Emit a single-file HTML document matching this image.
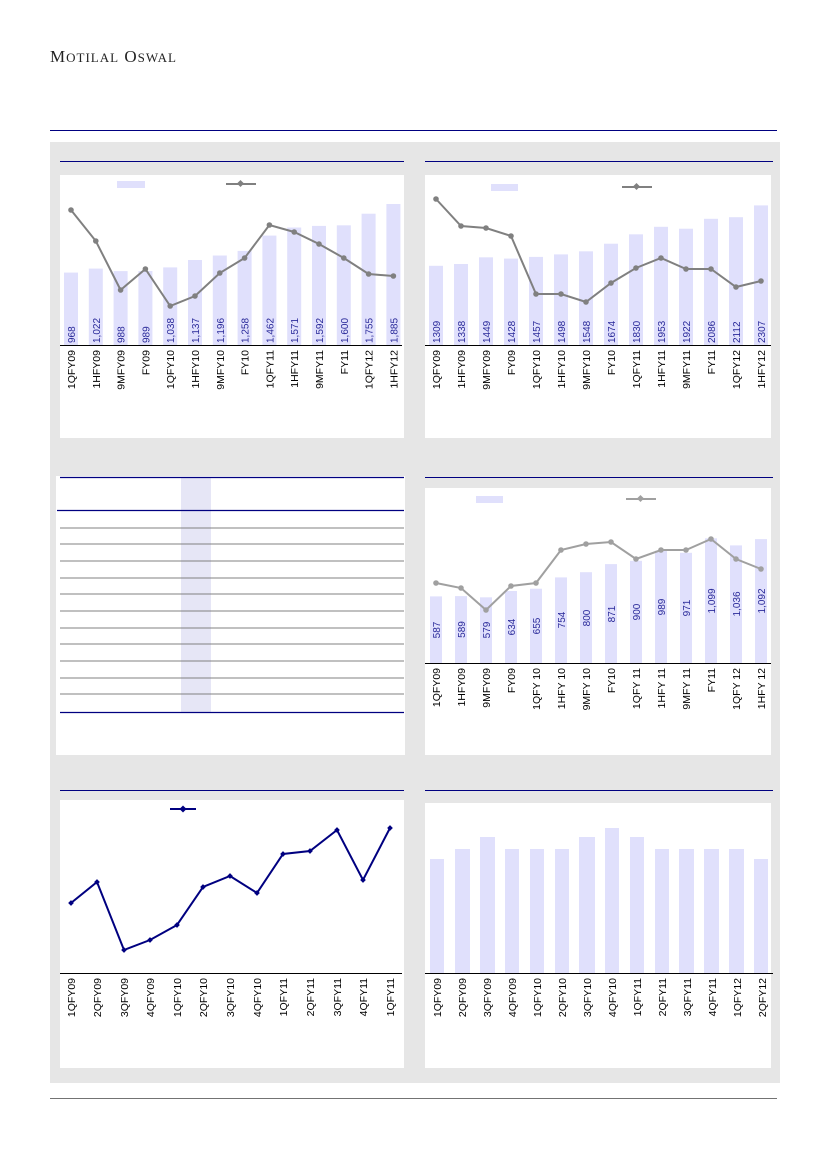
<!DOCTYPE html>
<html><head><meta charset="utf-8"><style>
html,body{margin:0;padding:0;background:#fff;}
svg{display:block;font-family:"Liberation Sans",Arial,sans-serif;}
.t{font-size:10.5px;fill:#000;}
.v{font-size:10px;fill:#2a2a9a;}
</style></head><body>
<svg width="826" height="1169" viewBox="0 0 826 1169" xmlns="http://www.w3.org/2000/svg">
<text x="50" y="62" font-family="Liberation Serif,serif" font-size="17" fill="#222" letter-spacing="1">M<tspan font-size="13">OTILAL</tspan> O<tspan font-size="13">SWAL</tspan></text>
<line x1="50" y1="130.5" x2="777" y2="130.5" stroke="#000080" stroke-width="1"/>
<rect x="50" y="142" width="730" height="941" fill="#e6e6e6"/>
<line x1="50" y1="1098.5" x2="777" y2="1098.5" stroke="#444" stroke-width="0.8"/>

<!-- Panel A -->
<line x1="60" y1="161.5" x2="404" y2="161.5" stroke="#000080"/>
<rect x="60" y="175" width="344" height="263" fill="#fff"/>
<rect x="117" y="181" width="28" height="7" fill="#e0e0fc"/>
<line x1="226" y1="184" x2="256" y2="184" stroke="#808080" stroke-width="2"/><rect x="238" y="181" width="5" height="5" transform="rotate(45 240.5 183.5)" fill="#808080"/>
<g fill="#e0e0fc">
<rect x="64" y="272.6" width="14" height="72.4"/><rect x="88.8" y="268.6" width="14" height="76.4"/><rect x="113.6" y="271.1" width="14" height="73.9"/><rect x="138.4" y="271" width="14" height="74"/><rect x="163.2" y="267.4" width="14" height="77.6"/><rect x="188" y="260" width="14" height="85"/><rect x="212.8" y="255.5" width="14" height="89.5"/><rect x="237.6" y="250.9" width="14" height="94.1"/><rect x="262.4" y="235.6" width="14" height="109.4"/><rect x="287.2" y="227.5" width="14" height="117.5"/><rect x="312" y="225.9" width="14" height="119.1"/><rect x="336.8" y="225.3" width="14" height="119.7"/><rect x="361.6" y="213.7" width="14" height="131.3"/><rect x="386.4" y="204" width="14" height="141"/>
</g>
<line x1="60" y1="345.5" x2="402" y2="345.5" stroke="#000"/>
<polyline fill="none" stroke="#808080" stroke-width="2" points="71,210 95.8,241 120.6,290 145.4,269 170.2,306 195,296 219.8,273 244.6,258 269.4,225 294.2,232 319,244 343.8,258 368.6,274 393.4,276"/>
<g fill="#808080">
<circle cx="71" cy="210" r="2.8"/><circle cx="95.8" cy="241" r="2.8"/><circle cx="120.6" cy="290" r="2.8"/><circle cx="145.4" cy="269" r="2.8"/><circle cx="170.2" cy="306" r="2.8"/><circle cx="195" cy="296" r="2.8"/><circle cx="219.8" cy="273" r="2.8"/><circle cx="244.6" cy="258" r="2.8"/><circle cx="269.4" cy="225" r="2.8"/><circle cx="294.2" cy="232" r="2.8"/><circle cx="319" cy="244" r="2.8"/><circle cx="343.8" cy="258" r="2.8"/><circle cx="368.6" cy="274" r="2.8"/><circle cx="393.4" cy="276" r="2.8"/>
</g>
<g class="v">
<text transform="translate(75,343) rotate(-90)">968</text><text transform="translate(99.8,343) rotate(-90)">1,022</text><text transform="translate(124.6,343) rotate(-90)">988</text><text transform="translate(149.4,343) rotate(-90)">989</text><text transform="translate(174.2,343) rotate(-90)">1,038</text><text transform="translate(199,343) rotate(-90)">1,137</text><text transform="translate(223.8,343) rotate(-90)">1,196</text><text transform="translate(248.6,343) rotate(-90)">1,258</text><text transform="translate(273.4,343) rotate(-90)">1,462</text><text transform="translate(298.2,343) rotate(-90)">1,571</text><text transform="translate(323,343) rotate(-90)">1,592</text><text transform="translate(347.8,343) rotate(-90)">1,600</text><text transform="translate(372.6,343) rotate(-90)">1,755</text><text transform="translate(397.4,343) rotate(-90)">1,885</text>
</g>
<g class="t" text-anchor="end">
<text transform="translate(75,350) rotate(-90)">1QFY09</text><text transform="translate(99.8,350) rotate(-90)">1HFY09</text><text transform="translate(124.6,350) rotate(-90)">9MFY09</text><text transform="translate(149.4,350) rotate(-90)">FY09</text><text transform="translate(174.2,350) rotate(-90)">1QFY10</text><text transform="translate(199,350) rotate(-90)">1HFY10</text><text transform="translate(223.8,350) rotate(-90)">9MFY10</text><text transform="translate(248.6,350) rotate(-90)">FY10</text><text transform="translate(273.4,350) rotate(-90)">1QFY11</text><text transform="translate(298.2,350) rotate(-90)">1HFY11</text><text transform="translate(323,350) rotate(-90)">9MFY11</text><text transform="translate(347.8,350) rotate(-90)">FY11</text><text transform="translate(372.6,350) rotate(-90)">1QFY12</text><text transform="translate(397.4,350) rotate(-90)">1HFY12</text>
</g>

<!-- Panel B -->
<line x1="425" y1="161.5" x2="773" y2="161.5" stroke="#000080"/>
<rect x="425" y="175" width="346" height="263" fill="#fff"/>
<rect x="491" y="184" width="27" height="7" fill="#e0e0fc"/>
<line x1="622" y1="187" x2="652" y2="187" stroke="#808080" stroke-width="2"/><rect x="634" y="184" width="5" height="5" transform="rotate(45 636.5 186.5)" fill="#808080"/>
<g fill="#e0e0fc">
<rect x="429" y="265.8" width="14" height="79.2"/><rect x="454" y="264" width="14" height="81"/><rect x="479" y="257.3" width="14" height="87.7"/><rect x="504" y="258.6" width="14" height="86.4"/><rect x="529" y="256.9" width="14" height="88.1"/><rect x="554" y="254.4" width="14" height="90.6"/><rect x="579" y="251.3" width="14" height="93.7"/><rect x="604" y="243.7" width="14" height="101.3"/><rect x="629" y="234.3" width="14" height="110.7"/><rect x="654" y="226.8" width="14" height="118.2"/><rect x="679" y="228.7" width="14" height="116.3"/><rect x="704" y="218.8" width="14" height="126.2"/><rect x="729" y="217.2" width="14" height="127.8"/><rect x="754" y="205.4" width="14" height="139.6"/>
</g>
<line x1="425" y1="345.5" x2="771" y2="345.5" stroke="#000"/>
<polyline fill="none" stroke="#808080" stroke-width="2" points="436,199 461,226 486,228 511,236 536,294 561,294 586,302 611,283 636,268 661,258 686,269 711,269 736,287 761,281"/>
<g fill="#808080">
<circle cx="436" cy="199" r="2.8"/><circle cx="461" cy="226" r="2.8"/><circle cx="486" cy="228" r="2.8"/><circle cx="511" cy="236" r="2.8"/><circle cx="536" cy="294" r="2.8"/><circle cx="561" cy="294" r="2.8"/><circle cx="586" cy="302" r="2.8"/><circle cx="611" cy="283" r="2.8"/><circle cx="636" cy="268" r="2.8"/><circle cx="661" cy="258" r="2.8"/><circle cx="686" cy="269" r="2.8"/><circle cx="711" cy="269" r="2.8"/><circle cx="736" cy="287" r="2.8"/><circle cx="761" cy="281" r="2.8"/>
</g>
<g class="v">
<text transform="translate(440,343) rotate(-90)">1309</text><text transform="translate(465,343) rotate(-90)">1338</text><text transform="translate(490,343) rotate(-90)">1449</text><text transform="translate(515,343) rotate(-90)">1428</text><text transform="translate(540,343) rotate(-90)">1457</text><text transform="translate(565,343) rotate(-90)">1498</text><text transform="translate(590,343) rotate(-90)">1548</text><text transform="translate(615,343) rotate(-90)">1674</text><text transform="translate(640,343) rotate(-90)">1830</text><text transform="translate(665,343) rotate(-90)">1953</text><text transform="translate(690,343) rotate(-90)">1922</text><text transform="translate(715,343) rotate(-90)">2086</text><text transform="translate(740,343) rotate(-90)">2112</text><text transform="translate(765,343) rotate(-90)">2307</text>
</g>
<g class="t" text-anchor="end">
<text transform="translate(440,350) rotate(-90)">1QFY09</text><text transform="translate(465,350) rotate(-90)">1HFY09</text><text transform="translate(490,350) rotate(-90)">9MFY09</text><text transform="translate(515,350) rotate(-90)">FY09</text><text transform="translate(540,350) rotate(-90)">1QFY10</text><text transform="translate(565,350) rotate(-90)">1HFY10</text><text transform="translate(590,350) rotate(-90)">9MFY10</text><text transform="translate(615,350) rotate(-90)">FY10</text><text transform="translate(640,350) rotate(-90)">1QFY11</text><text transform="translate(665,350) rotate(-90)">1HFY11</text><text transform="translate(690,350) rotate(-90)">9MFY11</text><text transform="translate(715,350) rotate(-90)">FY11</text><text transform="translate(740,350) rotate(-90)">1QFY12</text><text transform="translate(765,350) rotate(-90)">1HFY12</text>
</g>

<!-- Panel C (table) -->
<rect x="56" y="476" width="349" height="279" fill="#fff"/>
<rect x="181" y="477" width="30" height="235" fill="#e6e6f6"/>
<line x1="60" y1="477.5" x2="404" y2="477.5" stroke="#000080" stroke-width="1.2"/>
<line x1="57" y1="510.5" x2="404" y2="510.5" stroke="#000080" stroke-width="1.2"/>
<g stroke="#808080" stroke-width="1">
<line x1="60" y1="528" x2="404" y2="528"/><line x1="60" y1="544" x2="404" y2="544"/><line x1="60" y1="561" x2="404" y2="561"/><line x1="60" y1="578" x2="404" y2="578"/><line x1="60" y1="594" x2="404" y2="594"/><line x1="60" y1="611" x2="404" y2="611"/><line x1="60" y1="628" x2="404" y2="628"/><line x1="60" y1="644" x2="404" y2="644"/><line x1="60" y1="661" x2="404" y2="661"/><line x1="60" y1="678" x2="404" y2="678"/><line x1="60" y1="694" x2="404" y2="694"/>
</g>
<line x1="60" y1="712.5" x2="404" y2="712.5" stroke="#000080" stroke-width="1.2"/>

<!-- Panel D -->
<line x1="425" y1="477.5" x2="773" y2="477.5" stroke="#000080"/>
<rect x="425" y="488" width="346" height="267" fill="#fff"/>
<rect x="476" y="496" width="27" height="7" fill="#e0e0fc"/>
<line x1="626" y1="499" x2="656" y2="499" stroke="#a0a0a0" stroke-width="2"/><rect x="638" y="496" width="5" height="5" transform="rotate(45 640.5 498.5)" fill="#a0a0a0"/>
<g fill="#e0e0fc">
<rect x="430" y="596.4" width="12" height="66.6"/><rect x="455" y="596.1" width="12" height="66.9"/><rect x="480" y="597.3" width="12" height="65.7"/><rect x="505" y="591" width="12" height="72"/><rect x="530" y="588.7" width="12" height="74.3"/><rect x="555" y="577.4" width="12" height="85.6"/><rect x="580" y="572.2" width="12" height="90.8"/><rect x="605" y="564.1" width="12" height="98.9"/><rect x="630" y="560.8" width="12" height="102.2"/><rect x="655" y="550.7" width="12" height="112.3"/><rect x="680" y="552.8" width="12" height="110.2"/><rect x="705" y="538.3" width="12" height="124.7"/><rect x="730" y="545.4" width="12" height="117.6"/><rect x="755" y="539.1" width="12" height="123.9"/>
</g>
<line x1="425" y1="663.5" x2="771" y2="663.5" stroke="#000"/>
<polyline fill="none" stroke="#a0a0a0" stroke-width="2" points="436,583 461,588 486,610 511,586 536,583 561,550 586,544 611,542 636,559 661,550 686,550 711,539 736,559 761,569"/>
<g fill="#a0a0a0">
<circle cx="436" cy="583" r="2.8"/><circle cx="461" cy="588" r="2.8"/><circle cx="486" cy="610" r="2.8"/><circle cx="511" cy="586" r="2.8"/><circle cx="536" cy="583" r="2.8"/><circle cx="561" cy="550" r="2.8"/><circle cx="586" cy="544" r="2.8"/><circle cx="611" cy="542" r="2.8"/><circle cx="636" cy="559" r="2.8"/><circle cx="661" cy="550" r="2.8"/><circle cx="686" cy="550" r="2.8"/><circle cx="711" cy="539" r="2.8"/><circle cx="736" cy="559" r="2.8"/><circle cx="761" cy="569" r="2.8"/>
</g>
<g class="v" text-anchor="middle">
<text transform="translate(440,630) rotate(-90)">587</text><text transform="translate(465,629.5) rotate(-90)">589</text><text transform="translate(490,630) rotate(-90)">579</text><text transform="translate(515,627) rotate(-90)">634</text><text transform="translate(540,626) rotate(-90)">655</text><text transform="translate(565,620) rotate(-90)">754</text><text transform="translate(590,618) rotate(-90)">800</text><text transform="translate(615,614) rotate(-90)">871</text><text transform="translate(640,612) rotate(-90)">900</text><text transform="translate(665,607) rotate(-90)">989</text><text transform="translate(690,608) rotate(-90)">971</text><text transform="translate(715,601) rotate(-90)">1,099</text><text transform="translate(740,604) rotate(-90)">1,036</text><text transform="translate(765,601) rotate(-90)">1,092</text>
</g>
<g class="t" text-anchor="end">
<text transform="translate(440,668) rotate(-90)">1QFY09</text><text transform="translate(465,668) rotate(-90)">1HFY09</text><text transform="translate(490,668) rotate(-90)">9MFY09</text><text transform="translate(515,668) rotate(-90)">FY09</text><text transform="translate(540,668) rotate(-90)">1QFY 10</text><text transform="translate(565,668) rotate(-90)">1HFY 10</text><text transform="translate(590,668) rotate(-90)">9MFY 10</text><text transform="translate(615,668) rotate(-90)">FY10</text><text transform="translate(640,668) rotate(-90)">1QFY 11</text><text transform="translate(665,668) rotate(-90)">1HFY 11</text><text transform="translate(690,668) rotate(-90)">9MFY 11</text><text transform="translate(715,668) rotate(-90)">FY11</text><text transform="translate(740,668) rotate(-90)">1QFY 12</text><text transform="translate(765,668) rotate(-90)">1HFY 12</text>
</g>

<!-- Panel E -->
<line x1="60" y1="790.5" x2="404" y2="790.5" stroke="#000080"/>
<rect x="60" y="800" width="344" height="268" fill="#fff"/>
<line x1="170" y1="809" x2="196" y2="809" stroke="#000080" stroke-width="2"/><rect x="180.5" y="806.5" width="5" height="5" transform="rotate(45 183 809)" fill="#000080"/>
<line x1="60" y1="973.5" x2="402" y2="973.5" stroke="#000"/>
<polyline fill="none" stroke="#000080" stroke-width="2" points="71,903 97,882 124,950 150,940 177,925 203,887 230,876 257,893 283,854 310,851 337,830 363,880 390,828"/>
<g fill="#000080">
<rect x="69" y="901" width="4" height="4" transform="rotate(45 71 903)"/><rect x="95" y="880" width="4" height="4" transform="rotate(45 97 882)"/><rect x="122" y="948" width="4" height="4" transform="rotate(45 124 950)"/><rect x="148" y="938" width="4" height="4" transform="rotate(45 150 940)"/><rect x="175" y="923" width="4" height="4" transform="rotate(45 177 925)"/><rect x="201" y="885" width="4" height="4" transform="rotate(45 203 887)"/><rect x="228" y="874" width="4" height="4" transform="rotate(45 230 876)"/><rect x="255" y="891" width="4" height="4" transform="rotate(45 257 893)"/><rect x="281" y="852" width="4" height="4" transform="rotate(45 283 854)"/><rect x="308" y="849" width="4" height="4" transform="rotate(45 310 851)"/><rect x="335" y="828" width="4" height="4" transform="rotate(45 337 830)"/><rect x="361" y="878" width="4" height="4" transform="rotate(45 363 880)"/><rect x="388" y="826" width="4" height="4" transform="rotate(45 390 828)"/>
</g>
<g class="t" text-anchor="end">
<text transform="translate(75,978) rotate(-90)">1QFY09</text><text transform="translate(101,978) rotate(-90)">2QFY09</text><text transform="translate(128,978) rotate(-90)">3QFY09</text><text transform="translate(154,978) rotate(-90)">4QFY09</text><text transform="translate(181,978) rotate(-90)">1QFY10</text><text transform="translate(207,978) rotate(-90)">2QFY10</text><text transform="translate(234,978) rotate(-90)">3QFY10</text><text transform="translate(261,978) rotate(-90)">4QFY10</text><text transform="translate(287,978) rotate(-90)">1QFY11</text><text transform="translate(314,978) rotate(-90)">2QFY11</text><text transform="translate(341,978) rotate(-90)">3QFY11</text><text transform="translate(367,978) rotate(-90)">4QFY11</text><text transform="translate(394,978) rotate(-90)">1QFY11</text>
</g>

<!-- Panel F -->
<line x1="425" y1="790.5" x2="773" y2="790.5" stroke="#000080"/>
<rect x="425" y="803" width="346" height="265" fill="#fff"/>
<g fill="#e0e0fc">
<rect x="430" y="859" width="14" height="114"/><rect x="455" y="849" width="15" height="124"/><rect x="480" y="837" width="15" height="136"/><rect x="505" y="849" width="14" height="124"/><rect x="530" y="849" width="14" height="124"/><rect x="555" y="849" width="14" height="124"/><rect x="579" y="837" width="16" height="136"/><rect x="605" y="828" width="14" height="145"/><rect x="630" y="837" width="14" height="136"/><rect x="655" y="849" width="14" height="124"/><rect x="679" y="849" width="15" height="124"/><rect x="704" y="849" width="15" height="124"/><rect x="729" y="849" width="15" height="124"/><rect x="754" y="859" width="14" height="114"/>
</g>
<line x1="425" y1="973.5" x2="773" y2="973.5" stroke="#000"/>
<g class="t" text-anchor="end">
<text transform="translate(441,978) rotate(-90)">1QFY09</text><text transform="translate(466,978) rotate(-90)">2QFY09</text><text transform="translate(491,978) rotate(-90)">3QFY09</text><text transform="translate(516,978) rotate(-90)">4QFY09</text><text transform="translate(541,978) rotate(-90)">1QFY10</text><text transform="translate(566,978) rotate(-90)">2QFY10</text><text transform="translate(591,978) rotate(-90)">3QFY10</text><text transform="translate(616,978) rotate(-90)">4QFY10</text><text transform="translate(641,978) rotate(-90)">1QFY11</text><text transform="translate(666,978) rotate(-90)">2QFY11</text><text transform="translate(691,978) rotate(-90)">3QFY11</text><text transform="translate(716,978) rotate(-90)">4QFY11</text><text transform="translate(741,978) rotate(-90)">1QFY12</text><text transform="translate(766,978) rotate(-90)">2QFY12</text>
</g>
</svg>
</body></html>
